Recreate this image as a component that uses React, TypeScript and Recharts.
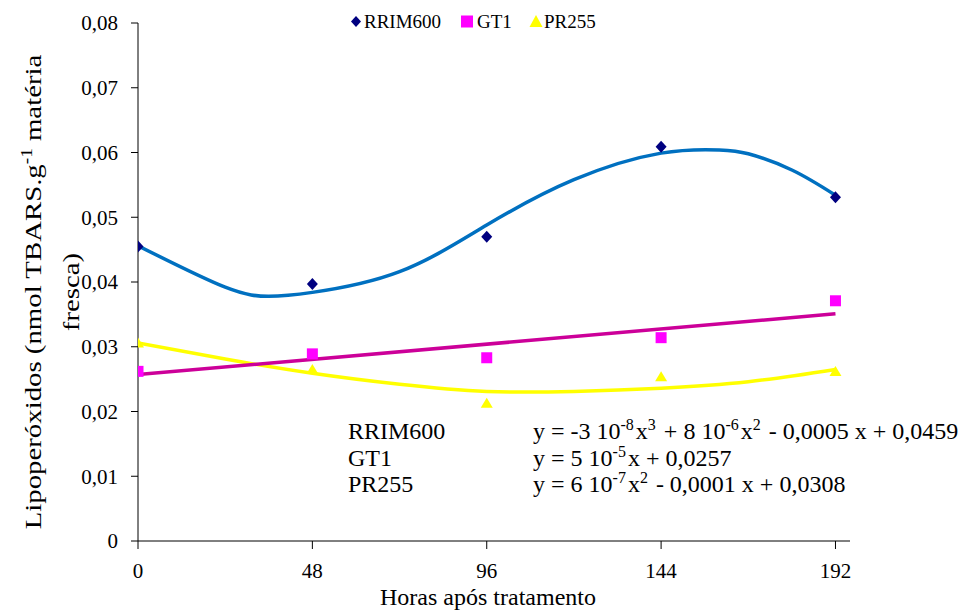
import React from "react";
import { ComposedChart, XAxis, YAxis, Scatter, Line, Legend } from "recharts";

const FONT = '"Liberation Serif", "Times New Roman", serif';

// Observed values
const hours = [0, 48, 96, 144, 192];
const rrim600 = [0.0455, 0.0397, 0.047, 0.0609, 0.0531];
const gt1 = [0.0262, 0.0289, 0.0283, 0.0314, 0.0371];
const pr255 = [0.0305, 0.0264, 0.0212, 0.0253, 0.0261];

// Trend lines
const rrimTrendHours = [0, 24, 36, 48, 72, 96, 120, 144, 160, 168, 180, 192];
const rrimTrend = [0.0456, 0.0392, 0.0378, 0.0384, 0.0416, 0.0488, 0.0558, 0.0599, 0.0604, 0.0598, 0.0573, 0.0534];
const gt1TrendHours = [0, 192];
const gt1Trend = [0.0257, 0.0351];
const prTrendHours = [0, 24, 48, 72, 96, 120, 144, 168, 192];
const prTrend = [0.0306, 0.0281, 0.0259, 0.0242, 0.0231, 0.0231, 0.0236, 0.0246, 0.0265];

const yTicks = [0, 0.01, 0.02, 0.03, 0.04, 0.05, 0.06, 0.07, 0.08];
const seriesNames = ["RRIM600", "GT1", "PR255"];

const toPts = (xs: number[], ys: number[]) => xs.map((x, i) => ({ x, y: ys[i] }));

const DiamondShape = (p: any) => (
  <path d={`M${p.cx},${p.cy - 6}L${p.cx + 5.5},${p.cy}L${p.cx},${p.cy + 6}L${p.cx - 5.5},${p.cy}Z`} fill="#000080" />
);
const SquareShape = (p: any) => (
  <rect x={p.cx - 5.5} y={p.cy - 5.5} width={11} height={11} fill="#ff00ff" />
);
const TriangleShape = (p: any) => (
  <path d={`M${p.cx},${p.cy - 6}L${p.cx + 6},${p.cy + 4}L${p.cx - 6},${p.cy + 4}Z`} fill="#ffff00" />
);

const legendIcons: Record<string, React.ReactNode> = {
  RRIM600: <path d="M356,16L361,21.5L356,27L351,21.5Z" fill="#000080" />,
  GT1: <rect x={461} y={15.5} width={12} height={12} fill="#ff00ff" />,
  PR255: <path d="M536,15L542.5,27L529.5,27Z" fill="#ffff00" />,
};
const legendTextX: Record<string, number> = { RRIM600: 364, GT1: 477, PR255: 544 };

const LegendContent = () => (
  <svg width={961} height={40} style={{ position: "absolute", left: 0, top: 0 }}>
    {seriesNames.map((n) => (
      <g key={n}>
        {legendIcons[n]}
        <text x={legendTextX[n]} y={27.5} fontFamily={FONT} fontSize={19} fill="#000">
          {n}
        </text>
      </g>
    ))}
  </svg>
);

const yFmt = (v: number) => (v === 0 ? "0" : v.toFixed(2).replace(".", ","));

const supStyle: React.CSSProperties = { fontSize: 16, verticalAlign: "9px", lineHeight: 0, marginRight: 2 };
const supStyle2: React.CSSProperties = { fontSize: 16, verticalAlign: "9px", lineHeight: 0 };

export default function App() {
  return (
    <div style={{ position: "absolute", left: 0, top: 0, width: 961, height: 614, background: "#fff", overflow: "hidden", fontFamily: FONT }}>
      <ComposedChart width={961} height={614} margin={{ top: 23, right: 111, bottom: 0, left: 0 }}>
        <XAxis
          type="number"
          dataKey="x"
          domain={[0, 196]}
          ticks={hours}
          allowDataOverflow
          height={73}
          stroke="#000"
          tickSize={8}
          tickMargin={14}
          tick={{ fill: "#000", fontSize: 21, fontFamily: FONT }}
        />
        <YAxis
          type="number"
          dataKey="y"
          domain={[0, 0.08]}
          ticks={yTicks}
          width={138}
          stroke="#000"
          tickSize={7}
          tickMargin={13}
          tickFormatter={yFmt}
          tick={{ fill: "#000", fontSize: 21, fontFamily: FONT }}
        />
        <Legend
          layout="horizontal"
          verticalAlign="middle"
          align="center"
          content={LegendContent}
          wrapperStyle={{ position: "absolute", top: 0, left: 0, width: 961, height: 40 }}
        />
        <Scatter name="RRIM600" data={toPts(hours, rrim600)} dataKey="y" shape={DiamondShape} isAnimationActive={false} />
        <Scatter name="GT1" data={toPts(hours, gt1)} dataKey="y" shape={SquareShape} isAnimationActive={false} />
        <Scatter name="PR255" data={toPts(hours, pr255)} dataKey="y" shape={TriangleShape} isAnimationActive={false} />
        <Line data={toPts(prTrendHours, prTrend)} dataKey="y" type="natural" stroke="#ffff00" strokeWidth={3.5} dot={false} activeDot={false} legendType="none" isAnimationActive={false} />
        <Line data={toPts(gt1TrendHours, gt1Trend)} dataKey="y" type="linear" stroke="#cc0099" strokeWidth={3.5} dot={false} activeDot={false} legendType="none" isAnimationActive={false} />
        <Line data={toPts(rrimTrendHours, rrimTrend)} dataKey="y" type="natural" stroke="#0070c0" strokeWidth={3.5} dot={false} activeDot={false} legendType="none" isAnimationActive={false} />
      </ComposedChart>

      {/* Axis titles */}
      <div
        style={{
          position: "absolute",
          left: 52 - 260,
          top: 292 - 38,
          width: 520,
          height: 76,
          transform: "rotate(-90deg) scaleX(1.2)",
          textAlign: "center",
          fontFamily: FONT,
          fontSize: 24,
          lineHeight: "38px",
          color: "#000",
        }}
      >
        Lipoperóxidos (nmol TBARS.g<span style={supStyle2}>-1</span> matéria
        <br />
        fresca)
      </div>
      <div
        style={{
          position: "absolute",
          left: 288,
          width: 400,
          top: 583,
          textAlign: "center",
          fontFamily: FONT,
          fontSize: 24,
          lineHeight: "28px",
          color: "#000",
        }}
      >
        Horas após tratamento
      </div>

      {/* Regression equations */}
      <div style={{ position: "absolute", left: 348, top: 418, fontFamily: FONT, fontSize: 24, lineHeight: "26.5px", color: "#000" }}>
        <div>RRIM600</div>
        <div>GT1</div>
        <div>PR255</div>
      </div>
      <div style={{ position: "absolute", left: 533, top: 418, fontFamily: FONT, fontSize: 24, lineHeight: "26.5px", color: "#000", whiteSpace: "nowrap" }}>
        <div>
          y = -3 10<span style={supStyle}>-8</span>x<span style={supStyle}>3</span> + 8 10<span style={supStyle}>-6</span>x<span style={supStyle}>2</span> - 0,0005 x + 0,0459
        </div>
        <div>
          y = 5 10<span style={supStyle}>-5</span>x + 0,0257
        </div>
        <div>
          y = 6 10<span style={supStyle}>-7</span>x<span style={supStyle}>2</span> - 0,0001 x + 0,0308
        </div>
      </div>
    </div>
  );
}
